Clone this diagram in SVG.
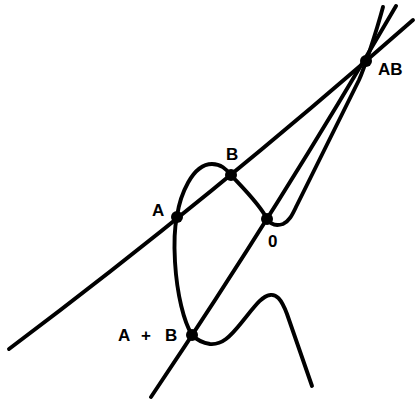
<svg xmlns="http://www.w3.org/2000/svg" width="417" height="399" viewBox="0 0 417 399">
<style>
.ln{fill:none;stroke:#000;stroke-width:3.9;stroke-linecap:round;stroke-linejoin:round}
.dot{fill:#000}
.lb{font-family:"Liberation Sans",Arial,sans-serif;font-weight:bold;font-size:17px;fill:#000}
</style>
<rect width="417" height="399" fill="#fff"/>
<g id="connectors">
<path id="line-A-B-AB" class="ln" d="M9,349 Q211,197.5 413,20"/>
<path id="line-0-AplusB-AB" class="ln" d="M151,397 Q282,202 396,6"/>
<path id="curve" class="ln" d="M312,386 L287,314 C281,298 276,294 270,295 C262,296 255,306 242,322 C230,337 222,345 210,344 C203,343 197,340 192,335 C184,322 177,295 175,262 C174,245 174,230 177,216 C180,196 192,164 212,164 C221,164 226,169 231,175 C237,182 260,204 267,219 C271,225 277,226 283,224 C290,221 293,213 297,205 L359,80 C364,69 376,33 383,7"/>
</g>
<g id="node-AB"><circle class="dot" cx="366" cy="61" r="6"/><text class="lb" x="378" y="75">AB</text></g>
<g id="node-B"><circle class="dot" cx="231" cy="175" r="6"/><text class="lb" x="226" y="160">B</text></g>
<g id="node-A"><circle class="dot" cx="177" cy="217" r="6"/><text class="lb" x="152" y="216">A</text></g>
<g id="node-0"><circle class="dot" cx="267" cy="219" r="6"/><text class="lb" x="268" y="247">0</text></g>
<g id="node-AplusB"><circle class="dot" cx="192" cy="335" r="6"/><text class="lb" y="341"><tspan x="118">A</tspan><tspan x="141">+</tspan><tspan x="165">B</tspan></text></g>
</svg>
